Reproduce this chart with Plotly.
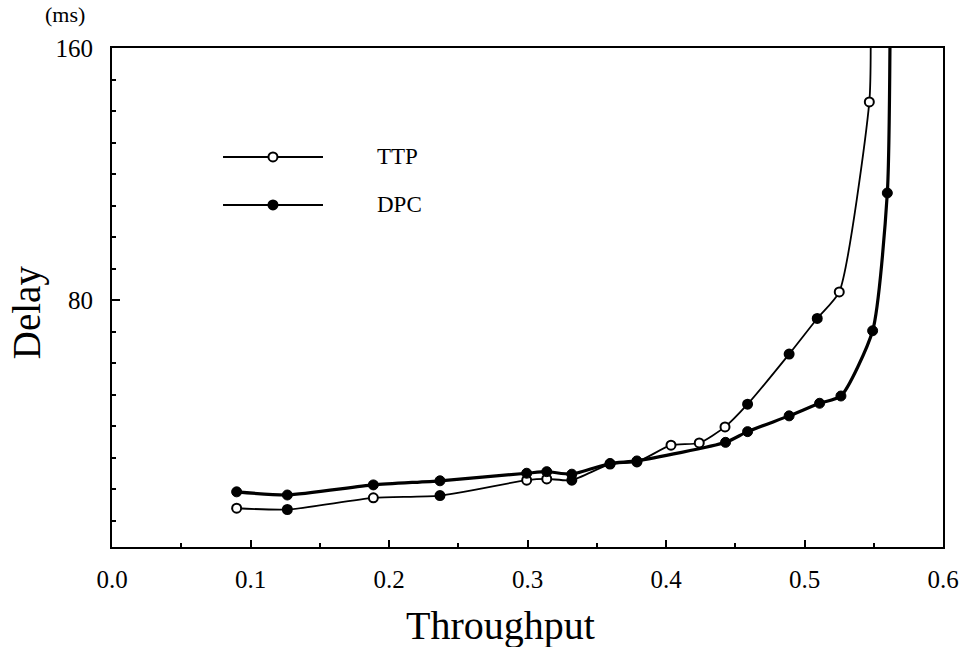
import plotly.graph_objects as go

# ---- data ----
ttp_x = [0.090, 0.1266, 0.1887, 0.2368, 0.2994, 0.3139, 0.332, 0.3596, 0.379,
         0.4036, 0.424, 0.4426, 0.4589, 0.4889, 0.5092, 0.5251, 0.5468]
ttp_y = [14.0, 13.6, 17.3, 18.0, 22.9, 23.3, 22.9, 28.0, 28.7,
         34.0, 34.7, 39.8, 47.0, 62.9, 74.2, 82.6, 142.9]
ttp_end_x = 0.5478
ttp_end_y = 160

dpc_x = [0.090, 0.1266, 0.1887, 0.2368, 0.2994, 0.3139, 0.332, 0.3596, 0.379,
         0.443, 0.4589, 0.4889, 0.5109, 0.5263, 0.5492, 0.5598]
dpc_y = [19.2, 18.2, 21.4, 22.7, 25.1, 25.6, 24.8, 28.2, 29.0,
         34.9, 38.3, 43.3, 47.3, 49.6, 70.3, 114.0]
dpc_end_x = 0.5617
dpc_end_y = 160

series_names = ["TTP", "DPC"]
x_title = "Throughput"
y_title = "Delay"
y_unit = "(ms)"

FONT = "Liberation Serif"
fig = go.Figure()

# lines
fig.add_trace(go.Scatter(x=ttp_x + [ttp_end_x], y=ttp_y + [ttp_end_y], mode="lines",
                         line=dict(color="black", width=1.8, shape="spline", smoothing=0.6),
                         showlegend=False, hoverinfo="skip"))
fig.add_trace(go.Scatter(x=dpc_x + [dpc_end_x], y=dpc_y + [dpc_end_y], mode="lines",
                         line=dict(color="black", width=3.2, shape="spline", smoothing=0.6),
                         showlegend=False, hoverinfo="skip"))

# markers (some TTP markers appear filled in the scanned original)
filled_idx = {1, 3, 6, 12, 13, 14}
ttp_fill = ["black" if i in filled_idx else "white" for i in range(len(ttp_x))]
fig.add_trace(go.Scatter(x=ttp_x, y=ttp_y, mode="markers", name=series_names[0],
                         marker=dict(symbol="circle", size=9, color=ttp_fill,
                                     line=dict(color="black", width=2)),
                         showlegend=False))
fig.add_trace(go.Scatter(x=dpc_x, y=dpc_y, mode="markers", name=series_names[1],
                         marker=dict(symbol="circle", size=10, color="black",
                                     line=dict(color="black", width=1)),
                         showlegend=False))

# manual legend
shapes = []
annotations = []
leg = [(0.7816, "white", series_names[0]), (0.6854, "black", series_names[1])]
for yy, fill, name in leg:
    shapes.append(dict(type="line", xref="paper", yref="paper", x0=0.1336, x1=0.2539,
                       y0=yy, y1=yy, line=dict(color="black", width=2)))
    shapes.append(dict(type="circle", xref="paper", yref="paper", xsizemode="pixel",
                       ysizemode="pixel", xanchor=0.1937, yanchor=yy, x0=-4.5, x1=4.5,
                       y0=-4.5, y1=4.5,
                       fillcolor=fill, line=dict(color="black", width=2)))
    annotations.append(dict(text=name, xref="paper", yref="paper", x=0.3165, y=yy,
                            xanchor="left", yanchor="middle", showarrow=False,
                            font=dict(family=FONT, size=23, color="black")))

annotations.append(dict(text=y_unit, xref="paper", yref="paper", x=-0.0566, y=1.068,
                        xanchor="center", yanchor="middle", showarrow=False,
                        font=dict(family=FONT, size=22, color="black")))
annotations.append(dict(text=x_title, xref="paper", yref="paper", x=0.467, y=-0.158,
                        xanchor="center", yanchor="middle", showarrow=False,
                        font=dict(family=FONT, size=40, color="black")))
annotations.append(dict(text=y_title, xref="paper", yref="paper", x=-0.102, y=0.471,
                        xanchor="center", yanchor="middle", showarrow=False, textangle=-90,
                        font=dict(family=FONT, size=39, color="black")))

fig.update_layout(
    width=973, height=647,
    margin=dict(l=112, r=30, t=48, b=100),
    plot_bgcolor="white", paper_bgcolor="white",
    shapes=shapes, annotations=annotations,
    showlegend=False,
    xaxis=dict(range=[0, 0.6], tick0=0, dtick=0.1, tickformat=".1f",
               showgrid=False, zeroline=False, showline=True, linecolor="black",
               linewidth=2, mirror=True, ticks="inside", ticklen=7, tickwidth=2,
               tickcolor="black", ticklabelstandoff=9,
               minor=dict(dtick=0.05, ticks="inside", ticklen=4, tickwidth=2,
                          tickcolor="black", showgrid=False),
               tickfont=dict(family=FONT, size=25, color="black")),
    yaxis=dict(range=[1.7, 160], tick0=0, dtick=80,
               showgrid=False, zeroline=False, showline=True, linecolor="black",
               linewidth=2, mirror=True, ticks="inside", ticklen=8, tickwidth=2,
               tickcolor="black", ticklabelstandoff=12,
               minor=dict(dtick=10, ticks="inside", ticklen=4, tickwidth=2,
                          tickcolor="black", showgrid=False),
               tickfont=dict(family=FONT, size=25, color="black")),
)

fig.write_html("out.html", config={"displayModeBar": False},
               post_script="document.body.style.margin='0';")
